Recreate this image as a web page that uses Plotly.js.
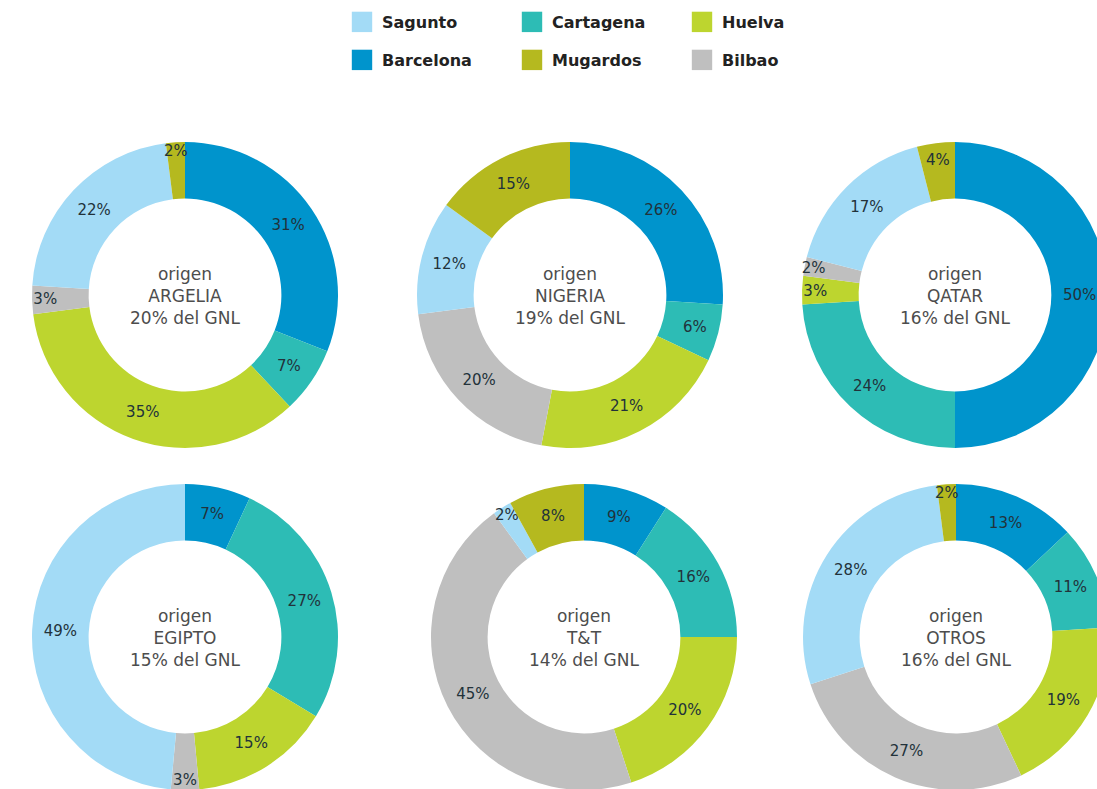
<!DOCTYPE html>
<html><head><meta charset="utf-8">
<script src="https://cdn.plot.ly/plotly-3.0.1.min.js"></script>
<style>html,body{margin:0;padding:0;overflow:hidden;background:#fff;width:1097px;height:789px}#chart{width:1120px;height:800px}</style>
</head><body><div id="chart"></div>
<script>
// Slice order clockwise from 12 o'clock
const terminals = ['Barcelona','Cartagena','Huelva','Bilbao','Sagunto','Mugardos'];
const legendRow1 = ['Sagunto','Cartagena','Huelva'];
const legendRow2 = ['Barcelona','Mugardos','Bilbao'];
const origins = ['ARGELIA','NIGERIA','QATAR','EGIPTO','T&T','OTROS'];
const originShare = [20,19,16,15,14,16];
const argelia = [31,7,35,3,22,2];
const nigeria = [26,6,21,20,12,15];
const qatar = [50,24,3,2,17,4];
const egipto = [7,27,15,3,49,0];
const tt = [9,16,20,45,2,8];
const otros = [13,11,19,27,28,2];
const seriesValues = [argelia, nigeria, qatar, egipto, tt, otros];

const colorMap = {
  Sagunto:'#a3dbf6', Barcelona:'#0094cc', Cartagena:'#2dbcb5',
  Mugardos:'#b5b91f', Huelva:'#bdd52f', Bilbao:'#bfbfbf'
};

const W = 1120, H = 800, R = 153;
const centers = [[185,295],[570,295],[955,295],[185,637],[584,637],[956,637]];
function dom(c){
  return {x:[(c[0]-R)/W,(c[0]+R)/W], y:[(H-c[1]-R)/H,(H-c[1]+R)/H]};
}

const data = [];
// legend-order carriers, placed outside the visible window
[[legendRow1,'legend'],[legendRow2,'legend2']].forEach(([labs,lg])=>{
  data.push({
    type:'pie', labels:labs, values:labs.map(()=>1), sort:false,
    marker:{colors:labs.map(l=>colorMap[l])}, legend:lg, showlegend:true,
    textinfo:'none', hoverinfo:'skip', domain:{x:[0.99,1],y:[0,0.01]}
  });
});

origins.forEach((o,i)=>{
  const vals = seriesValues[i];
  data.push({
    type:'pie', name:o, labels:terminals, values:vals, sort:false,
    direction:'clockwise', rotation:0, hole:0.63,
    marker:{colors:terminals.map(t=>colorMap[t]), line:{width:0}},
    text: vals.map(v=> v>0 ? v+'%' : ''), textinfo:'text',
    textposition:'inside', insidetextorientation:'horizontal',
    textfont:{family:'DejaVu Sans', size:15, color:'#22323a'},
    title:{text:'origen<br>'+o+'<br>'+originShare[i]+'% del GNL', position:'middle center',
      font:{family:'DejaVu Sans', size:17, color:'#4d4d4d'}},
    showlegend:false, domain:dom(centers[i]),
    hovertemplate:o+'<br>%{label}: %{value}%<extra></extra>'
  });
});

const legendCommon = {
  orientation:'h', xanchor:'left', yanchor:'top', x:342/W,
  entrywidth:125, entrywidthmode:'pixels', bgcolor:'rgba(0,0,0,0)',
  font:{family:'DejaVu Sans', size:16, weight:'bold', color:'#222'}
};
const layout = {
  width:W, height:H, margin:{l:0,r:0,t:0,b:0},
  paper_bgcolor:'#fff', plot_bgcolor:'#fff',
  uniformtext:{mode:'show', minsize:15},
  legend:Object.assign({}, legendCommon, {y:1-5/H}),
  legend2:Object.assign({}, legendCommon, {y:1-43/H})
};

const gd = document.getElementById('chart');
function bigSymbols(){
  document.querySelectorAll('.legendpoints path').forEach(p=>p.setAttribute('transform','translate(20,0) scale(1.7)'));
}
Plotly.newPlot(gd, data, layout, {displayModeBar:false, responsive:false}).then(()=>{
  bigSymbols();
  gd.on('plotly_afterplot', bigSymbols);
});
</script>
</body></html>
